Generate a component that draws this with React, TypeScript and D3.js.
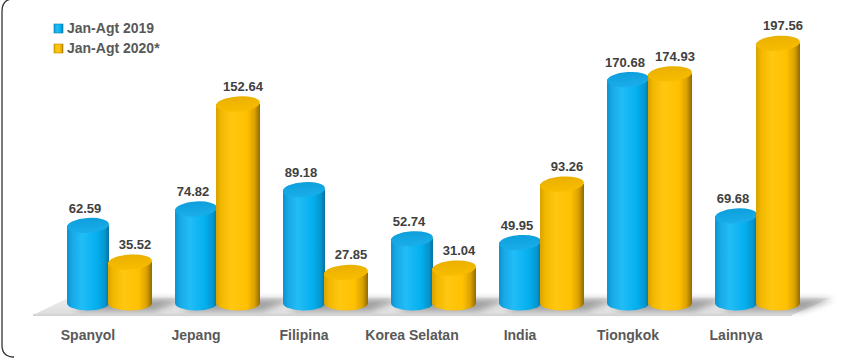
import React from "react";
import * as d3 from "d3";

const categories = ["Spanyol", "Jepang", "Filipina", "Korea Selatan", "India", "Tiongkok", "Lainnya"];
const series2019 = [62.59, 74.82, 89.18, 52.74, 49.95, 170.68, 69.68];
const series2020 = [35.52, 152.64, 27.85, 31.04, 93.26, 174.93, 197.56];
const seriesNames = ["Jan-Agt 2019", "Jan-Agt 2020*"];

const W = 847;
const H = 359;
const FONT = "'Liberation Sans', Arial, sans-serif";

const x = d3.scalePoint<string>().domain(categories).range([88, 736]);
const y = d3.scaleLinear().domain([0, 200]).range([310, 40]);
const baseY = 303;
const RY = 7.5;

const seriesCfg = [
  { key: "b", data: series2019, dx: 0, rx: 21, labelDx: -3, body: "gBlue", top: "tBlue" },
  { key: "g", data: series2020, dx: 42, rx: 22, labelDx: 5, body: "gGold", top: "tGold" },
];

function cylPath(cx: number, rx: number, yt: number) {
  const x0 = cx - rx, x1 = cx + rx;
  return `M${x0},${yt} L${x0},${baseY} A${rx},${RY} 0 0 0 ${x1},${baseY} L${x1},${yt} Z`;
}

export default function App() {
  return (
    <svg width={W} height={H} style={{ position: "absolute", left: 0, top: 0, background: "#fff" }}>
      <defs>
        <linearGradient id="gBlue" x1="0" x2="1" y1="0" y2="0">
          <stop offset="0" stopColor="#0a93cf" />
          <stop offset="0.12" stopColor="#17a9e6" />
          <stop offset="0.35" stopColor="#22bdf6" />
          <stop offset="0.7" stopColor="#04b0f0" />
          <stop offset="0.9" stopColor="#0596d0" />
          <stop offset="1" stopColor="#06739f" />
        </linearGradient>
        <linearGradient id="tBlue" x1="0" x2="0" y1="0" y2="1">
          <stop offset="0" stopColor="#0d9fdc" />
          <stop offset="1" stopColor="#1aaeea" />
        </linearGradient>
        <linearGradient id="gGold" x1="0" x2="1" y1="0" y2="0">
          <stop offset="0" stopColor="#d9a200" />
          <stop offset="0.12" stopColor="#f2b800" />
          <stop offset="0.35" stopColor="#ffc711" />
          <stop offset="0.7" stopColor="#ffc000" />
          <stop offset="0.88" stopColor="#d9a000" />
          <stop offset="1" stopColor="#8f6a00" />
        </linearGradient>
        <linearGradient id="tGold" x1="0" x2="0" y1="0" y2="1">
          <stop offset="0" stopColor="#eab000" />
          <stop offset="1" stopColor="#f8bd00" />
        </linearGradient>
        <linearGradient id="floorG" x1="0" x2="0" y1="0" y2="1">
          <stop offset="0" stopColor="#eeeeee" />
          <stop offset="1" stopColor="#dcdcdc" />
        </linearGradient>
        <linearGradient id="bottomLine" x1="0" x2="1" y1="0" y2="0">
          <stop offset="0" stopColor="#333" />
          <stop offset="0.25" stopColor="#bbb" />
          <stop offset="1" stopColor="#d6d6d6" />
        </linearGradient>
        <filter id="blur" x="-50%" y="-100%" width="200%" height="300%">
          <feGaussianBlur stdDeviation="3" />
        </filter>
      </defs>

      {/* border */}
      <path d={`M${W + 2},-1 H13 Q2,-1 2,12 V345 Q2,357 14,357`} fill="none" stroke="#333" strokeWidth={1.3} />
      <path d={`M14,357 H${W + 2}`} fill="none" stroke="url(#bottomLine)" strokeWidth={1.3} />

      {/* floor */}
      <path d="M33,315 L792,315 L830,298 L68,298 Z" fill="url(#floorG)" />
      <g filter="url(#blur)" opacity={0.6}>
        {categories.map((c) => {
          const x0 = (x(c) as number) - 21;
          const x1 = (x(c) as number) + 42 + 22;
          return (
            <path key={c} d={`M${x0 + 6},311 L${x1 + 2},311 L${x1 + 34},299 L${x0 + 30},299 Z`} fill="#707070" />
          );
        })}
      </g>
      <line x1={33} x2={792} y1={315} y2={315} stroke="#d4d4d4" strokeWidth={2} />

      {/* cylinders */}
      {categories.map((c, i) => (
        <g key={c}>
          {seriesCfg.map((s) => {
            const cx = (x(c) as number) + s.dx;
            const yt = y(s.data[i]);
            return (
              <g key={s.key}>
                <path d={cylPath(cx, s.rx, yt)} fill={`url(#${s.body})`} />
                <ellipse cx={cx} cy={yt} rx={s.rx} ry={RY} fill={`url(#${s.top})`} transform={`rotate(-4 ${cx} ${yt})`} />
              </g>
            );
          })}
        </g>
      ))}

      {/* value labels */}
      {categories.map((c, i) => (
        <g key={c + "l"}>
          {seriesCfg.map((s) => {
            const cx = (x(c) as number) + s.dx + s.labelDx;
            const yt = y(s.data[i]);
            return (
              <text key={s.key} x={cx} y={yt - 13} textAnchor="middle" fontFamily={FONT} fontWeight="bold" fontSize={13} fill="#404040">
                {s.data[i].toFixed(2)}
              </text>
            );
          })}
        </g>
      ))}

      {/* category labels */}
      {categories.map((c) => (
        <text key={c + "c"} x={x(c) as number} y={340} textAnchor="middle" fontFamily={FONT} fontWeight="bold" fontSize={14} fill="#595959">
          {c}
        </text>
      ))}

      {/* legend */}
      {seriesNames.map((n, i) => (
        <g key={n} transform={`translate(54,${24 + i * 20})`}>
          <rect x={0} y={0} width={9} height={9} fill={`url(#${seriesCfg[i].body})`} stroke={i === 0 ? "#0a7fb0" : "#b88a00"} strokeWidth={0.6} />
          <text x={13} y={9} fontFamily={FONT} fontWeight="bold" fontSize={14} fill="#595959">
            {n}
          </text>
        </g>
      ))}
    </svg>
  );
}
